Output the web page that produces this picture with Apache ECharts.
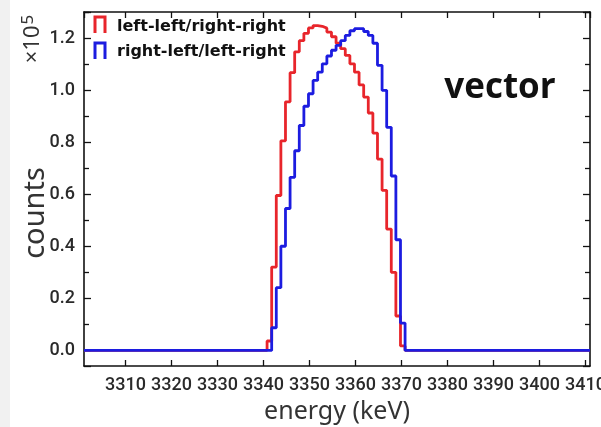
<!DOCTYPE html>
<html>
<head>
<meta charset="utf-8">
<script src="https://cdn.jsdelivr.net/npm/echarts@6/dist/echarts.min.js"></script>
<style>
  html, body { margin: 0; padding: 0; background: #ffffff; }
  #chart { width: 601px; height: 427px; }
</style>
</head>
<body>
<div id="chart"></div>
<script>
// Histogram bin edges (keV), 1 keV wide bins
const binEdges = [
  3340.8, 3341.8, 3342.8, 3343.8, 3344.8, 3345.8, 3346.8, 3347.8, 3348.8, 3349.8,
  3350.8, 3351.8, 3352.8, 3353.8, 3354.8, 3355.8, 3356.8, 3357.8, 3358.8, 3359.8,
  3360.8, 3361.8, 3362.8, 3363.8, 3364.8, 3365.8, 3366.8, 3367.8, 3368.8, 3369.8,
  3370.8
];

// Counts per bin, in units of 10^5
const llrrCounts = [
  0.036, 0.320, 0.595, 0.805, 0.955, 1.067, 1.147, 1.190, 1.218, 1.239,
  1.248, 1.245, 1.238, 1.223, 1.205, 1.180, 1.159, 1.133, 1.101, 1.069,
  1.020, 0.973, 0.912, 0.835, 0.735, 0.615, 0.466, 0.300, 0.132, 0.017
];
const rllrCounts = [
  0.000, 0.087, 0.241, 0.400, 0.545, 0.665, 0.767, 0.864, 0.938, 0.986,
  1.037, 1.069, 1.101, 1.131, 1.153, 1.172, 1.190, 1.210, 1.228, 1.236,
  1.236, 1.225, 1.210, 1.180, 1.095, 0.999, 0.857, 0.670, 0.425, 0.105
];

const seriesNames = ['left-left/right-right', 'right-left/left-right'];
const seriesColors = ['#e8252b', '#1c1ce0'];
const xRange = [3301, 3411];
const yRange = [-0.06, 1.30];

// Step outline of a histogram, flat at zero outside the filled bins
function histogramOutline(edges, counts) {
  const pts = [[xRange[0], 0]];
  counts.forEach((c, i) => pts.push([edges[i], c]));
  pts.push([edges[edges.length - 1], 0]);
  pts.push([xRange[1], 0]);
  return pts;
}

const frameColor = '#111111';
const axisLine = { show: true, onZero: false, lineStyle: { color: frameColor, width: 1.6 } };
const tickStyle = { color: frameColor, width: 1.3 };
const tickFont = { fontFamily: 'Roboto', fontSize: 18, fontWeight: 500, color: '#2a2a2a' };

const chart = echarts.init(document.getElementById('chart'), null, { renderer: 'canvas' });

chart.setOption({
  animation: false,
  backgroundColor: '#ffffff',
  grid: { left: 84, right: 11, top: 12, bottom: 61, containLabel: false, outerBoundsMode: 'none' },
  xAxis: [
    {
      type: 'value', position: 'bottom', min: xRange[0], max: xRange[1], splitNumber: 11,
      axisLine: axisLine,
      axisTick: { inside: true, length: 6, lineStyle: tickStyle },
      axisLabel: Object.assign({
        showMinLabel: false, showMaxLabel: false, margin: 10,
        formatter: v => String(v)
      }, tickFont),
      splitLine: { show: false },
      name: 'energy (keV)', nameLocation: 'middle', nameGap: 33,
      nameTextStyle: { fontFamily: 'Noto Sans', fontSize: 25, color: '#333333' }
    },
    {
      type: 'value', position: 'top', min: xRange[0], max: xRange[1], splitNumber: 11,
      axisLine: axisLine,
      axisTick: { inside: true, length: 6, lineStyle: tickStyle },
      axisLabel: { show: false },
      splitLine: { show: false }
    }
  ],
  yAxis: [
    {
      type: 'value', position: 'left', min: yRange[0], max: yRange[1], splitNumber: 7,
      axisLine: axisLine,
      axisTick: { inside: true, length: 7, lineStyle: tickStyle },
      minorTick: { show: true, splitNumber: 2, length: 5, lineStyle: tickStyle },
      axisLabel: Object.assign({
        showMinLabel: false, showMaxLabel: false, margin: 9,
        formatter: v => v.toFixed(1)
      }, tickFont),
      splitLine: { show: false },
      minorSplitLine: { show: false }
    },
    {
      type: 'value', position: 'right', min: yRange[0], max: yRange[1], splitNumber: 7,
      axisLine: axisLine,
      axisTick: { inside: true, length: 7, lineStyle: tickStyle },
      minorTick: { show: true, splitNumber: 2, length: 5, lineStyle: tickStyle },
      axisLabel: { show: false },
      splitLine: { show: false },
      minorSplitLine: { show: false }
    }
  ],
  series: [
    {
      name: seriesNames[0], type: 'line', step: 'end', xAxisIndex: 0, yAxisIndex: 0,
      data: histogramOutline(binEdges, llrrCounts),
      showSymbol: false, symbol: 'none',
      lineStyle: { color: seriesColors[0], width: 2.8 },
      z: 3
    },
    {
      name: seriesNames[1], type: 'line', step: 'end', xAxisIndex: 0, yAxisIndex: 0,
      data: histogramOutline(binEdges, rllrCounts),
      showSymbol: false, symbol: 'none',
      lineStyle: { color: seriesColors[1], width: 2.8 },
      z: 4
    }
  ],
  graphic: [
    // light strip along the left edge
    { type: 'rect', left: 0, top: 0, shape: { width: 10, height: 427 }, style: { fill: '#f1f1f1' }, silent: true, z: -10 },
    // vertical axis title
    {
      type: 'text', x: 36, y: 213, rotation: Math.PI / 2,
      style: { text: 'counts', fill: '#333333', fontFamily: 'Noto Sans', fontSize: 29, align: 'center', verticalAlign: 'middle' }
    },
    // axis multiplier
    {
      type: 'text', x: 33, y: 39, rotation: Math.PI / 2,
      style: {
        text: '×10{s|5}', fill: '#333333', fontFamily: 'Noto Sans', fontSize: 22,
        align: 'center', verticalAlign: 'middle',
        rich: { s: { fontSize: 17, fontFamily: 'Noto Sans', fill: '#333333', padding: [0, 0, 10, 1] } }
      }
    },
    // legend: histogram-outline icons and labels
    { type: 'polyline', shape: { points: [[95, 33], [95, 17], [105, 17], [105, 33]] }, style: { stroke: seriesColors[0], lineWidth: 3, fill: null } },
    { type: 'polyline', shape: { points: [[95, 59], [95, 43], [105, 43], [105, 59]] }, style: { stroke: seriesColors[1], lineWidth: 3, fill: null } },
    { type: 'text', x: 117, y: 27, style: { text: seriesNames[0], fill: '#111111', fontFamily: 'DejaVu Sans', fontWeight: 'bold', fontSize: 16, verticalAlign: 'middle' } },
    { type: 'text', x: 117, y: 52, style: { text: seriesNames[1], fill: '#111111', fontFamily: 'DejaVu Sans', fontWeight: 'bold', fontSize: 16, verticalAlign: 'middle' } },
    // panel tag
    { type: 'text', x: 500, y: 88, style: { text: 'vector', fill: '#111111', fontFamily: 'Open Sans', fontWeight: 'bold', fontSize: 35, align: 'center', verticalAlign: 'middle' } }
  ]
});
</script>
</body>
</html>
